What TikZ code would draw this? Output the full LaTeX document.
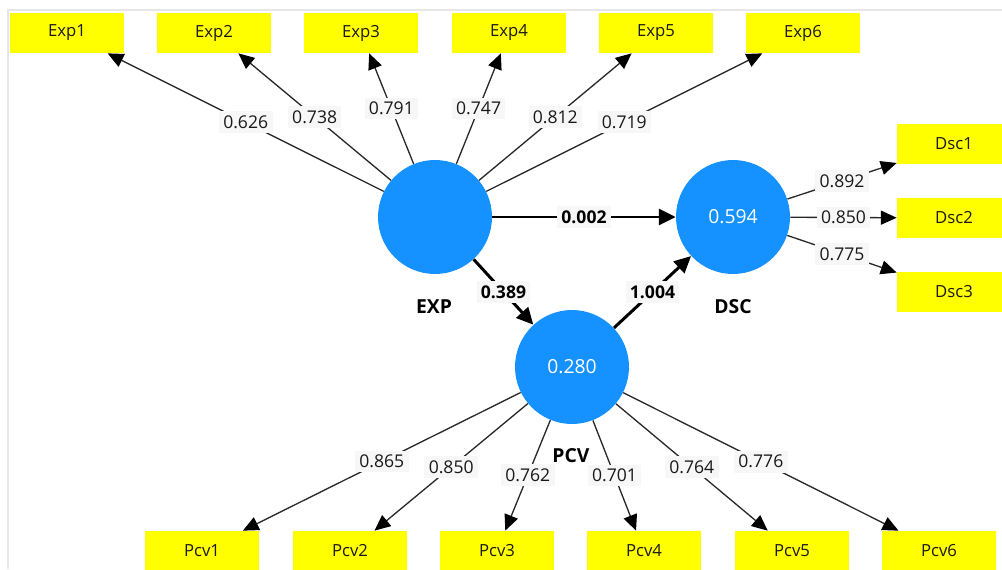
\documentclass[tikz,border=0pt]{standalone}
\usepackage{fontspec}
\setmainfont{Open Sans}
\usetikzlibrary{arrows.meta}
\definecolor{lvblue}{RGB}{21,146,255}
\definecolor{indyellow}{RGB}{255,255,0}
\definecolor{lblbg}{RGB}{247,247,247}
\definecolor{edgecol}{RGB}{40,40,40}
\definecolor{framecol}{RGB}{230,230,230}
\begin{document}
\begin{tikzpicture}[x=0.02cm,y=-0.02cm,
  indbox/.style={fill=indyellow, minimum width=2.28cm, minimum height=0.8cm, inner sep=0pt, text=black!90, font=\fontsize{9.5}{11}\selectfont},
  lv/.style={circle, fill=lvblue, minimum size=2.28cm, inner sep=0pt, text=white, font=\fontsize{11}{13}\selectfont},
  lvname/.style={font=\bfseries\fontsize{11}{13}\selectfont},
  loadarrow/.style={draw=edgecol, line width=0.75pt, -{Triangle[length=9pt,width=8pt,fill=black,color=black]}},
  structarrow/.style={draw=black, line width=1.7pt, -{Triangle[length=9.5pt,width=9pt]}},
  wl/.style={fill=lblbg, inner sep=2.5pt, font=\fontsize{10}{12}\selectfont, text=black!90},
  pl/.style={fill=lblbg, inner sep=2.5pt, font=\bfseries\fontsize{10}{12}\selectfont},
]
\useasboundingbox (0,0) rectangle (1002,569);
\clip (0,0) rectangle (1002,569);
\draw[framecol, line width=0.6pt] (8,569) -- (8,10) -- (1002,10);

% latent variables
\node[lv] (EXP) at (435,217) {};
\node[lv] (DSC) at (733,217) {0.594};
\node[lv] (PCV) at (572,367) {0.280};
\node[lvname] (EXPn) at (434,307) {EXP};
\node[lvname] (DSCn) at (733,307) {DSC};
\node[lvname] (PCVn) at (571,456) {PCV};

% indicators
\node[indbox] (Exp1) at (67,33) {Exp1};
\node[indbox] (Exp2) at (214,33) {Exp2};
\node[indbox] (Exp3) at (361,33) {Exp3};
\node[indbox] (Exp4) at (509,33) {Exp4};
\node[indbox] (Exp5) at (656,33) {Exp5};
\node[indbox] (Exp6) at (803,33) {Exp6};
\node[indbox] (Dsc1) at (954,144) {Dsc1};
\node[indbox] (Dsc2) at (954,218) {Dsc2};
\node[indbox] (Dsc3) at (954,292) {Dsc3};
\node[indbox] (Pcv1) at (202,551) {Pcv1};
\node[indbox] (Pcv2) at (350,551) {Pcv2};
\node[indbox] (Pcv3) at (497,551) {Pcv3};
\node[indbox] (Pcv4) at (644,551) {Pcv4};
\node[indbox] (Pcv5) at (792,551) {Pcv5};
\node[indbox] (Pcv6) at (939,551) {Pcv6};

% outer loadings
\draw[loadarrow] (EXP) -- node[wl]{0.626} (Exp1);
\draw[loadarrow] (EXP) -- node[wl]{0.738} (Exp2);
\draw[loadarrow] (EXP) -- node[wl]{0.791} (Exp3);
\draw[loadarrow] (EXP) -- node[wl]{0.747} (Exp4);
\draw[loadarrow] (EXP) -- node[wl]{0.812} (Exp5);
\draw[loadarrow] (EXP) -- node[wl]{0.719} (Exp6);
\draw[loadarrow] (DSC) -- node[wl]{0.892} (Dsc1);
\draw[loadarrow] (DSC) -- node[wl]{0.850} (Dsc2);
\draw[loadarrow] (DSC) -- node[wl]{0.775} (Dsc3);
\draw[loadarrow] (PCV) -- node[wl]{0.865} (Pcv1);
\draw[loadarrow] (PCV) -- node[wl]{0.850} (Pcv2);
\draw[loadarrow] (PCV) -- node[wl]{0.762} (Pcv3);
\draw[loadarrow] (PCV) -- node[wl]{0.701} (Pcv4);
\draw[loadarrow] (PCV) -- node[wl]{0.764} (Pcv5);
\draw[loadarrow] (PCV) -- node[wl]{0.776} (Pcv6);

% structural paths
\draw[structarrow] (EXP) -- node[pl]{0.002} (DSC);
\draw[structarrow] (EXP) -- node[pl]{0.389} (PCV);
\draw[structarrow] (PCV) -- node[pl]{1.004} (DSC);
\end{tikzpicture}
\end{document}
